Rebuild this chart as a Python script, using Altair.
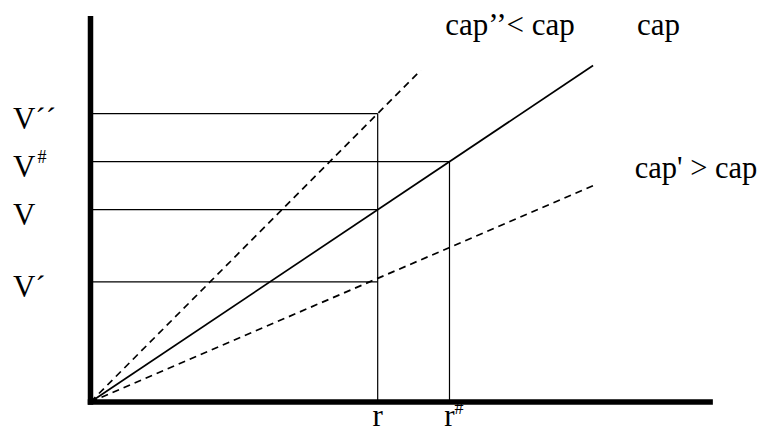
import altair as alt
import pandas as pd

# ---- data (abstract units) ----
r_names = ["r", "r"]
r_sups = ["", "#"]
r_values = [4, 5]

v_names = ["V\u00b4\u00b4", "V", "V", "V\u00b4"]
v_sups = ["", "#", "", ""]
v_values = [6, 5, 4, 2.5]
v_at_r = [4, 5, 4, 4]

ray_labels = ["cap\u2019\u2019< cap", "cap", "cap' > cap"]
ray_end_x = [4.6, 7.0, 7.0]
ray_end_y = [6.9, 7.0, 4.5]
ray_dashed = [True, False, True]

axis_x_max = 8.63
axis_y_max = 7.97

# label anchor positions (layout)
ray_label_x = [4.94, 7.61, 7.58]
ray_label_y = [7.63, 7.63, 4.654]
ray_label_size = [31, 31, 30.5]
v_label_x = -1.08

X_DOM = [-1.149, 9.283]
Y_DOM = [-0.645, 8.196]
FONT = "Liberation Serif"

xs = alt.Scale(domain=X_DOM, nice=False, zero=False)
ys = alt.Scale(domain=Y_DOM, nice=False, zero=False)

def seg(df, **kw):
    return alt.Chart(df).mark_rule(color="black", **kw).encode(
        x=alt.X("x:Q", scale=xs, axis=None),
        y=alt.Y("y:Q", scale=ys, axis=None),
        x2="x2:Q",
        y2="y2:Q",
    )

# horizontal guide lines
hdf = pd.DataFrame({"x": [0.0] * len(v_values), "x2": v_at_r,
                    "y": v_values, "y2": v_values})
# vertical guide lines
vtops = [max(v for v, rr in zip(v_values, v_at_r) if rr == r) for r in r_values]
vdf = pd.DataFrame({"x": r_values, "x2": r_values,
                    "y": [0.0] * len(r_values), "y2": vtops})
guides = seg(pd.concat([hdf, vdf]), strokeWidth=1.2)

# rays from origin
rays = pd.DataFrame({"x": [0.0] * 3, "y": [0.0] * 3,
                     "x2": ray_end_x, "y2": ray_end_y, "dashed": ray_dashed})
solid = seg(rays[~rays.dashed], strokeWidth=1.7)
dashed = seg(rays[rays.dashed], strokeWidth=1.7, strokeDash=[7, 5])

# thick axes
axdf = pd.DataFrame({"x": [0.0, 0.0], "x2": [axis_x_max, 0.0],
                     "y": [0.0, 0.0], "y2": [0.0, axis_y_max]})
axes = seg(axdf, strokeWidth=5.5, strokeCap="square")

def txt(df, size=None, **kw):
    enc = dict(
        x=alt.X("x:Q", scale=xs, axis=None),
        y=alt.Y("y:Q", scale=ys, axis=None),
        text="t:N",
    )
    mk = dict(font=FONT, color="black", baseline="alphabetic", **kw)
    if size is None:
        enc["size"] = alt.Size("fs:Q", scale=None, legend=None)
    else:
        mk["fontSize"] = size
    return alt.Chart(df).mark_text(**mk).encode(**enc)

vlab = pd.DataFrame({"x": [v_label_x] * len(v_values), "y": v_values,
                     "t": v_names, "s": v_sups})
v_text = txt(vlab, 31, align="left", dy=15)
v_sup = txt(vlab[vlab.s != ""].assign(t=lambda d: d.s), 18, align="left", dx=24.5, dy=1.5)

rlab = pd.DataFrame({"x": r_values, "y": [0.0] * len(r_values),
                     "t": r_names, "s": r_sups})
r_text = txt(rlab, 31, align="center", dy=24.5)
r_sup = txt(rlab[rlab.s != ""].assign(t=lambda d: d.s), 18, align="left", dx=5, dy=12.5)

clab = pd.DataFrame({"x": ray_label_x, "y": ray_label_y, "t": ray_labels,
                     "fs": ray_label_size})
c_text = txt(clab, None, align="left")

chart = alt.layer(guides, dashed, solid, axes, v_text, v_sup, r_text, r_sup, c_text).properties(
    width=749, height=425,
    autosize=alt.AutoSizeParams(type="none"),
    padding=0,
    background="white",
).configure_view(stroke=None, strokeWidth=0)

chart.save("out.html", embed_options={"renderer": "svg", "actions": False})
